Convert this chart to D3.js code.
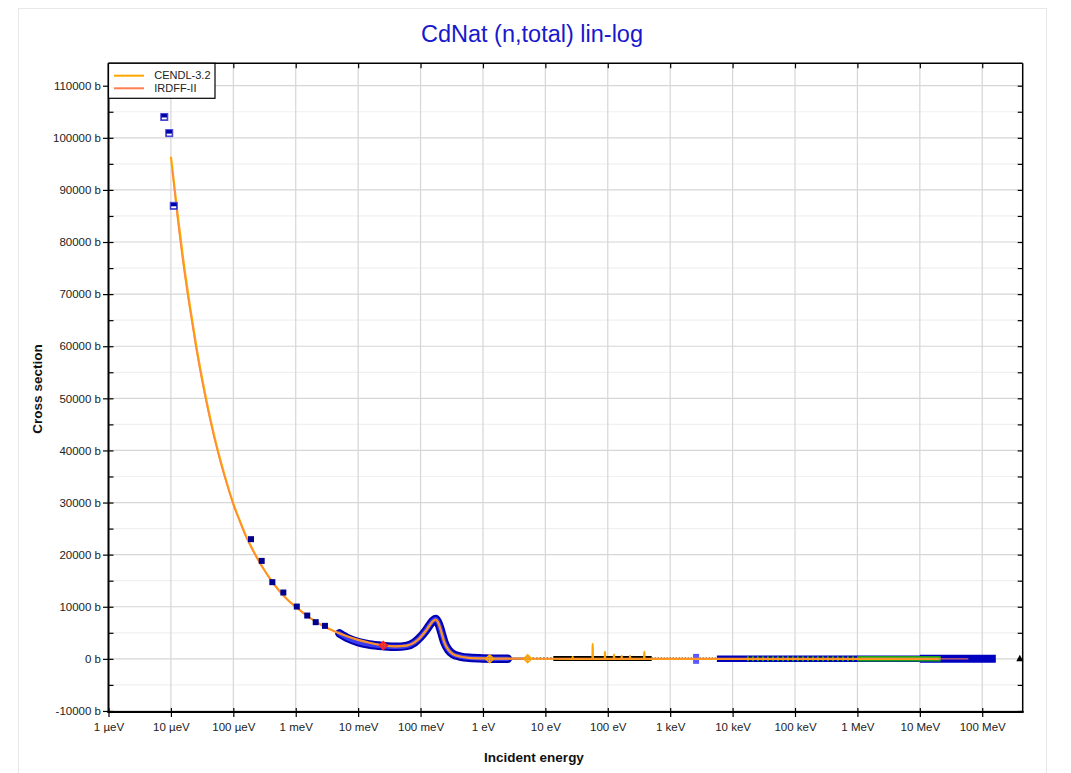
<!DOCTYPE html>
<html>
<head>
<meta charset="utf-8">
<script src="https://cdn.jsdelivr.net/npm/d3@7/dist/d3.min.js"></script>
<style>
  html, body { margin: 0; padding: 0; background: #fff; }
  svg { display: block; font-family: "Liberation Sans", Arial, sans-serif; }
</style>
</head>
<body>
<svg id="chart" width="1071" height="773"></svg>
<script>
// ---------------- DATA ----------------
const chartTitle = "CdNat (n,total) lin-log";
const xTitle = "Incident energy";
const yTitle = "Cross section";

const xTickValues = [1e-6, 1e-5, 1e-4, 1e-3, 1e-2, 1e-1, 1, 10, 100, 1e3, 1e4, 1e5, 1e6, 1e7, 1e8];
const xTickLabels = ["1 µeV", "10 µeV", "100 µeV", "1 meV", "10 meV", "100 meV", "1 eV", "10 eV", "100 eV", "1 keV", "10 keV", "100 keV", "1 MeV", "10 MeV", "100 MeV"];
const yTickValues = [-10000, 0, 10000, 20000, 30000, 40000, 50000, 60000, 70000, 80000, 90000, 100000, 110000];
const yMinorValues = [-5000, 5000, 15000, 25000, 35000, 45000, 55000, 65000, 75000, 85000, 95000, 105000];

const seriesNames = ["CENDL-3.2", "IRDFF-II"];

// CENDL-3.2 evaluated cross section (eV, barns)
const cendlEnergy = [1e-5, 1.26e-5, 1.58e-5, 2e-5, 2.51e-5, 3.16e-5, 3.98e-5, 5.01e-5, 6.31e-5, 7.94e-5,
  1e-4, 1.26e-4, 1.58e-4, 2e-4, 2.51e-4, 3.16e-4, 3.98e-4, 5.01e-4, 6.31e-4, 7.94e-4,
  1e-3, 1.58e-3, 2.51e-3, 3.98e-3, 6.31e-3, 1e-2, 1.58e-2, 2.53e-2, 4e-2, 6e-2, 8e-2,
  0.1, 0.12, 0.14, 0.16, 0.175, 0.19, 0.205, 0.218, 0.24, 0.278, 0.33, 0.43, 0.6, 1, 2, 5, 10,
  27.0, 27.4, 27.8, 56.8, 57.3, 57.8, 89.5, 90.2, 90.9, 125, 126, 127, 165.5, 167, 168.5,
  225, 227, 229, 382, 385, 388, 1000, 1e4, 1e5, 1e6, 1e7, 2e7];
const cendlSigma = [96400, 86000, 76500, 68000, 60500, 53800, 47800, 42500, 37800, 33600,
  29800, 26600, 23700, 21200, 19000, 17000, 15200, 13600, 12200, 11000,
  10000, 8100, 6600, 5400, 4450, 3650, 3050, 2600, 2400, 2550, 3150,
  4150, 5300, 6450, 7300, 7550, 7050, 6000, 4900, 3200, 1750, 900, 450, 200, 90, 40, 25, 20,
  15, 380, 15, 15, 2880, 15, 15, 1340, 15, 15, 830, 15, 15, 580, 15,
  15, 580, 15, 15, 1340, 15, 12, 9, 8, 6.5, 5.5, 5.5];

// IRDFF-II evaluated cross section (eV, barns)
const irdffEnergy = [1.05e-5, 1.26e-5, 1.58e-5, 2e-5, 2.51e-5, 3.16e-5, 3.98e-5, 5.01e-5, 6.31e-5, 7.94e-5,
  1e-4, 1.26e-4, 1.58e-4, 2e-4, 2.51e-4, 3.16e-4, 3.98e-4, 5.01e-4, 6.31e-4, 7.94e-4,
  1e-3, 1.58e-3, 2.51e-3, 3.98e-3, 6.31e-3, 1e-2, 1.58e-2, 2.53e-2, 4e-2, 6e-2, 8e-2,
  0.1, 0.12, 0.14, 0.16, 0.175, 0.19, 0.205, 0.218, 0.24, 0.278, 0.33, 0.43, 0.6, 1, 2, 5, 10,
  100, 1000, 1e4, 1e5, 1e6, 1e7, 2e7, 6e7];
const irdffSigma = [93800, 84800, 75400, 67000, 59700, 53100, 47200, 42000, 37400, 33300,
  29500, 26400, 23500, 21000, 18900, 16900, 15100, 13500, 12100, 10950,
  9950, 8080, 6580, 5390, 4440, 3640, 3040, 2600, 2400, 2550, 3150,
  4150, 5300, 6450, 7300, 7550, 7050, 6000, 4900, 3200, 1750, 900, 450, 200, 90, 40, 25, 20,
  15, 12, 9, 8, 6.5, 5.5, 5.5, 5];

const expSquaresA = [[7.83e-6, 104000], [9.4e-6, 100900], [1.11e-5, 86950]];
const expSquaresB = [[1.92e-4, 22970], [2.85e-4, 18800], [4.22e-4, 14720], [6.33e-4, 12730],
  [1.04e-3, 10040], [1.53e-3, 8310], [2.09e-3, 7040], [2.94e-3, 6330]];
const expThermalBand = [[5e-3, 4900], [7e-3, 3900], [1e-2, 3200], [1.5e-2, 2750], [2.5e-2, 2450],
  [4e-2, 2300], [6e-2, 2480], [8e-2, 3150], [0.1, 4200], [0.12, 5350], [0.14, 6500], [0.16, 7350],
  [0.175, 7650], [0.19, 7050], [0.205, 6000], [0.218, 4900], [0.24, 3200], [0.278, 1750],
  [0.33, 900], [0.43, 450], [0.6, 200], [1.0, 90], [2.5, 40]];
const expThinBlue = [[2.5, 40], [5.5, 25]];
const expBlackDotsLow = [[5.5, 60], [13.4, 60]];
const expBlackBand = [[13.4, 60], [505, 60]];
const expBlackDotsHigh = [[505, 60], [5600, 60]];
const expBlueSquare = [[2.6e3, 0]];
const expBlueHighA = [[5.6e3, 30], [1e5, 20], [1e6, 10], [1e7, 10]];
const expBlueHighB = [[1e7, 10], [1.65e8, 0]];
const expGreenScatter = [[1.7e4, 20], [1e6, 20]];
const expGreenDense = [[1e6, 20], [2.16e7, 20]];
const expRedDiamond = [[0.0253, 2560]];
const expOrangeDiamonds = [[1.28, 20], [5.2, 20]];
const expEdgeTriangle = [[4.0e8, 0]];

// ---------------- CHART ----------------
const svg = d3.select("#chart");
const W = 1071, H = 773;
const plot = { left: 108.5, right: 1022.7, top: 63.3, bottom: 712 };

const x = d3.scaleLog().domain([1e-6, 4.45e8]).range([plot.left, plot.right]);
const y = d3.scaleLinear().domain([-10200, 114300]).range([plot.bottom, plot.top]);

svg.append("rect").attr("width", W).attr("height", H).attr("fill", "#fff");
svg.append("rect").attr("x", 18.5).attr("y", 8.5).attr("width", 1028).attr("height", 790)
  .attr("fill", "none").attr("stroke", "#e8e8e8").attr("stroke-width", 1);

// grid
const grid = svg.append("g");
grid.selectAll(".ym").data(yMinorValues).join("line")
  .attr("x1", plot.left).attr("x2", plot.right)
  .attr("y1", d => y(d)).attr("y2", d => y(d))
  .attr("stroke", "#f0f0f0").attr("stroke-width", 1.2);
grid.selectAll(".yM").data(yTickValues).join("line")
  .attr("x1", plot.left).attr("x2", plot.right)
  .attr("y1", d => y(d)).attr("y2", d => y(d))
  .attr("stroke", "#d6d6d6").attr("stroke-width", 1.2);
grid.selectAll(".xM").data(xTickValues).join("line")
  .attr("x1", d => x(d)).attr("x2", d => x(d))
  .attr("y1", plot.top).attr("y2", plot.bottom)
  .attr("stroke", "#d6d6d6").attr("stroke-width", 1.2);

const line = d3.line().x(d => x(d[0])).y(d => y(d[1]));
const smooth = d3.line().x(d => x(d[0])).y(d => y(d[1])).curve(d3.curveMonotoneX);

const exp = svg.append("g");
function band(data, color, width, dash, gen, cap) {
  exp.append("path").datum(data).attr("d", gen || line)
    .attr("fill", "none").attr("stroke", color).attr("stroke-width", width)
    .attr("stroke-dasharray", dash || null).attr("stroke-linecap", cap || "butt").attr("stroke-linejoin", "round");
}
band(expThermalBand, "#0000b0", 8.5, null, smooth, "round");
band(expThermalBand, "#3b3bf0", 4.5, null, smooth, "round");
band(expThinBlue, "#2a2ae0", 2.5);
band(expBlackDotsLow, "#111", 2, "1.5,2");
band(expBlackBand, "#000", 5);
band(expBlackDotsHigh, "#111", 2, "1.2,1.8");
band(expBlueHighA, "#0000b8", 6.5);
band(expBlueHighA, "#ffffff", 1, "2,9");
band(expBlueHighB, "#0000c0", 8);
band(expGreenScatter, "#22a022", 5, "2,3");
band(expGreenDense, "#1c9c1c", 5.5);
band(expGreenDense, "#40b840", 2.5);

exp.selectAll(".bsq").data(expBlueSquare).join("rect")
  .attr("x", d => x(d[0]) - 3).attr("y", d => y(d[1]) - 5)
  .attr("width", 6).attr("height", 10).attr("fill", "#5a5aff");

// evaluated lines
const cendl = cendlEnergy.map((e, i) => [e, cendlSigma[i]]);
const irdff = irdffEnergy.map((e, i) => [e, irdffSigma[i]]);
const lines = svg.append("g");
lines.append("path").datum(cendl).attr("d", smooth)
  .attr("fill", "none").attr("stroke", "#ffa500").attr("stroke-width", 2.2).attr("stroke-linejoin", "round");
lines.append("path").datum(irdff).attr("d", smooth)
  .attr("fill", "none").attr("stroke", "#ff7f50").attr("stroke-width", 1.1).attr("stroke-opacity", 0.85);

// markers
const mk = svg.append("g");
mk.selectAll(".sqA").data(expSquaresA).join("rect")
  .attr("x", d => x(d[0]) - 3.5).attr("y", d => y(d[1]) - 3.5)
  .attr("width", 7).attr("height", 7).attr("fill", "#0000a8").attr("stroke", "#4848d8").attr("stroke-width", 1);
mk.selectAll(".sqAw").data(expSquaresA).join("rect")
  .attr("x", d => x(d[0]) - 2.5).attr("y", d => y(d[1]) + 0.5)
  .attr("width", 5).attr("height", 2).attr("fill", "#ffffff");
mk.selectAll(".sqB").data(expSquaresB).join("rect")
  .attr("x", d => x(d[0]) - 3).attr("y", d => y(d[1]) - 3)
  .attr("width", 6).attr("height", 6).attr("fill", "#000090");

function diamond(data, color) {
  const g = mk.append("g");
  g.selectAll("path").data(data).join("path")
    .attr("d", d => {
      const cx = x(d[0]), cy = y(d[1]), r = 4;
      return `M${cx},${cy - r}L${cx + r},${cy}L${cx},${cy + r}L${cx - r},${cy}Z M${cx - r},${cy}H${cx + r} M${cx},${cy - r}V${cy + r}`;
    })
    .attr("fill", "none").attr("stroke", color).attr("stroke-width", 1.5);
}
diamond(expRedDiamond, "#ff2020");
diamond(expOrangeDiamonds, "#ffa500");

mk.selectAll(".tri").data(expEdgeTriangle).join("path")
  .attr("d", d => {
    const cx = x(d[0]), cy = y(d[1]);
    return `M${cx},${cy - 4}L${cx + 3.5},${cy + 2.5}L${cx - 3.5},${cy + 2.5}Z`;
  })
  .attr("fill", "#000");

// axes
const fontTick = "11.5px";
svg.append("g").attr("transform", `translate(${plot.left},0)`)
  .call(d3.axisLeft(y).tickValues(yTickValues).tickSize(5.5).tickPadding(2).tickFormat(d => d + " b"));
svg.append("g").attr("transform", `translate(${plot.left},0)`)
  .call(d3.axisLeft(y).tickValues(yTickValues).tickSize(-5).tickFormat(""));
svg.append("g").attr("transform", `translate(${plot.left},0)`)
  .call(d3.axisLeft(y).tickValues(yMinorValues).tickSize(-5).tickFormat(""));
svg.append("g").attr("transform", `translate(${plot.right},0)`)
  .call(d3.axisRight(y).tickValues(yTickValues.concat(yMinorValues)).tickSize(-5).tickFormat(""));

svg.append("g").attr("transform", `translate(0,${plot.bottom})`)
  .call(d3.axisBottom(x).tickValues(xTickValues).tickSize(5).tickPadding(6)
    .tickFormat((d, i) => xTickLabels[i]));
svg.append("g").attr("transform", `translate(0,${plot.bottom})`)
  .call(d3.axisBottom(x).tickValues(xTickValues).tickSize(-4).tickFormat(""));
svg.append("g").attr("transform", `translate(0,${plot.top})`)
  .call(d3.axisTop(x).tickValues(xTickValues).tickSize(-5).tickFormat(""));

svg.selectAll(".domain").remove();
svg.selectAll(".tick line").attr("stroke", "#000").attr("stroke-width", 1.2);
svg.selectAll(".tick text").attr("fill", "#222").style("font-size", fontTick)
  .style("font-family", "'Liberation Sans', Arial, sans-serif");

// frame
svg.append("line").attr("x1", plot.left).attr("x2", plot.left).attr("y1", plot.top).attr("y2", plot.bottom + 1)
  .attr("stroke", "#000").attr("stroke-width", 2);
svg.append("line").attr("x1", plot.left - 1).attr("x2", plot.right + 1).attr("y1", plot.bottom).attr("y2", plot.bottom)
  .attr("stroke", "#000").attr("stroke-width", 2);
svg.append("line").attr("x1", plot.left).attr("x2", plot.right).attr("y1", plot.top).attr("y2", plot.top)
  .attr("stroke", "#000").attr("stroke-width", 1.5);
svg.append("line").attr("x1", plot.right).attr("x2", plot.right).attr("y1", plot.top).attr("y2", plot.bottom)
  .attr("stroke", "#000").attr("stroke-width", 1.5);

// legend
const lg = svg.append("g").attr("transform", `translate(${plot.left},${plot.top})`);
lg.append("rect").attr("x", 0).attr("y", 0).attr("width", 106.5).attr("height", 35)
  .attr("fill", "#fff").attr("stroke", "#000").attr("stroke-width", 1.2);
const legColors = ["#ffa500", "#ff7f50"];
seriesNames.forEach((name, i) => {
  lg.append("line").attr("x1", 5.5).attr("x2", 35.5).attr("y1", 12.4 + i * 12.6).attr("y2", 12.4 + i * 12.6)
    .attr("stroke", legColors[i]).attr("stroke-width", 2);
  lg.append("text").attr("x", 45.8).attr("y", 16.2 + i * 12.6).text(name)
    .attr("fill", "#222").style("font-size", "11px");
});

// titles
svg.append("text").attr("x", 532).attr("y", 42).attr("text-anchor", "middle")
  .attr("fill", "#1818cc").style("font-size", "23.5px").text(chartTitle);
svg.append("text").attr("x", 534).attr("y", 761.5).attr("text-anchor", "middle")
  .attr("fill", "#111").style("font-size", "13.5px").style("font-weight", "bold").text(xTitle);
svg.append("text").attr("transform", `translate(42,389) rotate(-90)`).attr("text-anchor", "middle")
  .attr("fill", "#111").style("font-size", "13.5px").style("font-weight", "bold").text(yTitle);
</script>
</body>
</html>
